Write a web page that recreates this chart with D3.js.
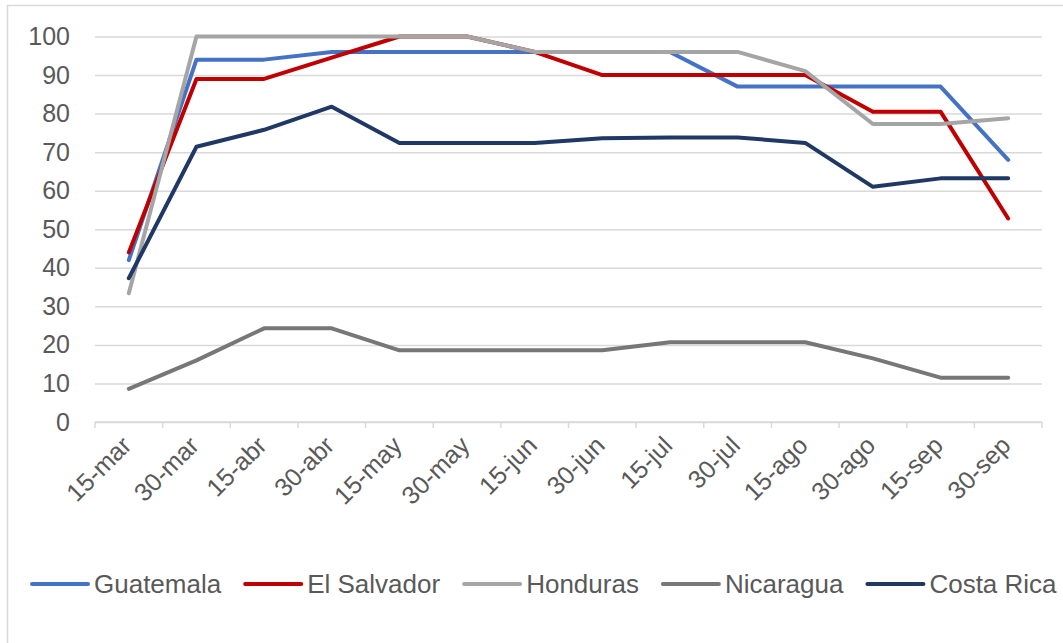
<!DOCTYPE html>
<html>
<head>
<meta charset="utf-8">
<script src="https://cdn.jsdelivr.net/npm/d3@7"></script>
<style>
  html, body { margin: 0; padding: 0; background: #ffffff; }
  svg { display: block; }
  text { font-family: "Liberation Sans", Arial, sans-serif; fill: #595959; }
</style>
</head>
<body>
<svg id="chart" width="1063" height="643"></svg>
<script>
const categories = ["15-mar","30-mar","15-abr","30-abr","15-may","30-may","15-jun","30-jun","15-jul","30-jul","15-ago","30-ago","15-sep","30-sep"];
const yTicks = [0,10,20,30,40,50,60,70,80,90,100];
const seriesNames = ["Guatemala","El Salvador","Honduras","Nicaragua","Costa Rica"];
const seriesColors = ["#4472C4","#C00000","#A5A5A5","#777777","#203864"];
const guatemala  = [42, 94, 94, 96, 96, 96, 96, 96, 96, 87, 87, 87, 87, 68];
const elSalvador = [44, 89, 89, 94.5, 100, 100, 96, 90, 90, 90, 90, 80.5, 80.5, 52.8];
const honduras   = [33.4, 100, 100, 100, 100, 100, 96, 96, 96, 96, 91, 77.3, 77.3, 78.8];
const nicaragua  = [8.6, 16, 24.3, 24.3, 18.6, 18.6, 18.6, 18.6, 20.7, 20.7, 20.7, 16.5, 11.5, 11.5];
const costaRica  = [37.3, 71.4, 75.8, 81.8, 72.4, 72.4, 72.4, 73.6, 73.8, 73.8, 72.4, 61, 63.2, 63.2];
const seriesValues = [guatemala, elSalvador, honduras, nicaragua, costaRica];

const svg = d3.select("#chart");

// outer frame
svg.append("rect").attr("x", 7.5).attr("y", 5.5).attr("width", 1100).attr("height", 700)
  .attr("fill", "none").attr("stroke", "#d9d9d9").attr("stroke-width", 1.5);

const x = d3.scaleBand().domain(categories).range([95, 1042]).padding(0);
const y = d3.scaleLinear().domain([0, 100]).range([422, 36.5]);
const cx = c => x(c) + x.bandwidth() / 2;

// y axis with gridlines
const yAxis = svg.append("g").attr("transform", "translate(95,0)")
  .call(d3.axisLeft(y).tickValues(yTicks).tickSize(-(1042 - 95)).tickPadding(25));
yAxis.select(".domain").remove();
yAxis.selectAll(".tick line").attr("stroke", "#d9d9d9").attr("stroke-width", 1.5);
yAxis.selectAll(".tick text").attr("font-size", 25).attr("fill", "#595959")
  .style("font-family", "'Liberation Sans', Arial, sans-serif");

// x axis baseline and boundary ticks
const xg = svg.append("g").attr("transform", `translate(0,${y(0)})`);
xg.append("line").attr("x1", 95).attr("x2", 1042).attr("y1", 0).attr("y2", 0)
  .attr("stroke", "#d9d9d9").attr("stroke-width", 1.5);
const bounds = categories.map(c => x(c)).concat([x(categories[categories.length - 1]) + x.bandwidth()]);
xg.selectAll("line.tk").data(bounds).join("line").attr("class", "tk")
  .attr("x1", d => d).attr("x2", d => d).attr("y1", 0).attr("y2", 6)
  .attr("stroke", "#d9d9d9").attr("stroke-width", 1.5);
xg.selectAll("text.xl").data(categories).join("text").attr("class", "xl")
  .attr("transform", d => `translate(${cx(d) + 4},${25}) rotate(-45)`)
  .attr("text-anchor", "end").attr("font-size", 25).text(d => d);

// lines
const line = d3.line().x((d, i) => cx(categories[i])).y(d => y(d));
svg.append("g").selectAll("path").data(seriesValues).join("path")
  .attr("d", d => line(d)).attr("fill", "none")
  .attr("stroke", (d, i) => seriesColors[i]).attr("stroke-width", 4)
  .attr("stroke-linejoin", "round").attr("stroke-linecap", "round");

// legend
const lg = svg.append("g").attr("transform", "translate(0,584)");
let lx = 30;
seriesNames.forEach((name, i) => {
  lg.append("line").attr("x1", lx + 2).attr("x2", lx + 58).attr("y1", 0).attr("y2", 0)
    .attr("stroke", seriesColors[i]).attr("stroke-width", 4).attr("stroke-linecap", "round");
  const t = lg.append("text").attr("x", lx + 64).attr("y", 9).attr("font-size", 26).text(name);
  lx = lx + 64 + t.node().getComputedTextLength() + 22;
});
</script>
</body>
</html>
